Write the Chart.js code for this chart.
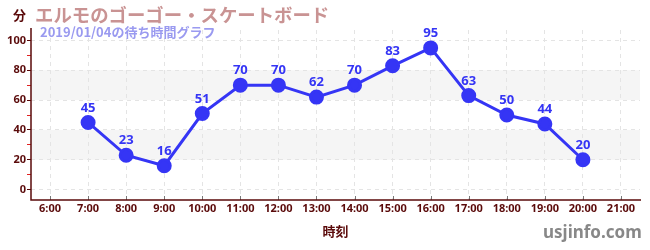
<!DOCTYPE html>
<html><head><meta charset="utf-8">
<script src="https://cdn.jsdelivr.net/npm/chart.js@4.4.1/dist/chart.umd.min.js"></script>
<style>
html,body{margin:0;padding:0;background:#fff;}
#wrap{position:relative;width:650px;height:250px;}
.t{position:absolute;white-space:nowrap;font-family:"Noto Sans CJK JP","Noto Sans",sans-serif;font-weight:bold;}
</style></head>
<body><div id="wrap"><canvas id="c" width="650" height="250"></canvas>
<div class="t" style="left:13px;top:5px;font-size:13px;color:#5a0a0a;">分</div>
<div class="t" style="left:35px;top:1px;font-size:18.4px;color:#c99393;">エルモのゴーゴー・スケートボード</div>
<div class="t" style="left:40px;top:22px;font-size:13px;color:#9a9af0;">2019/01/04の待ち時間グラフ</div>
<div class="t" style="left:543px;top:220px;font-size:17px;color:#888;font-family:'Noto Sans',sans-serif;">usjinfo.com</div>
</div>
<script>
const categories = ["6:00","7:00","8:00","9:00","10:00","11:00","12:00","13:00","14:00","15:00","16:00","17:00","18:00","19:00","20:00","21:00"];
const waitTimes = [null,45,23,16,51,70,70,62,70,83,95,63,50,44,20,null];
const bandRanges = [[20,40],[60,80]];

const axisColor = '#5a0a0a';
const lineColor = '#3535f5';

const bandPlugin = {
  id:'bands',
  beforeDraw(chart){
    const {ctx, chartArea, scales:{y}} = chart;
    ctx.save();
    ctx.fillStyle = '#f5f5f5';
    bandRanges.forEach(([a,b])=>{
      const y1 = y.getPixelForValue(b), y2 = y.getPixelForValue(a);
      ctx.fillRect(chartArea.left, y1, chartArea.right-chartArea.left, y2-y1);
    });
    ctx.restore();
  }
};
const axisPlugin = {
  id:'axes',
  afterDraw(chart){
    const {ctx, chartArea, scales:{x}} = chart;
    ctx.save();
    ctx.setLineDash([]);
    ctx.strokeStyle = '#777';
    ctx.lineWidth = 1;
    x.ticks.forEach((t,i)=>{
      const px = Math.round(x.getPixelForTick(i))+0.5;
      ctx.beginPath(); ctx.moveTo(px, chartArea.bottom-4); ctx.lineTo(px, chartArea.bottom); ctx.stroke();
    });
    ctx.strokeStyle = axisColor;
    ctx.lineWidth = 1.5;
    ctx.beginPath();
    ctx.moveTo(chartArea.left, chartArea.top-2);
    ctx.lineTo(chartArea.left, chartArea.bottom);
    ctx.lineTo(chartArea.right+1, chartArea.bottom);
    ctx.stroke();
    ctx.restore();
  }
};
const labelPlugin = {
  id:'vlabels',
  afterDatasetsDraw(chart){
    const {ctx} = chart;
    const meta = chart.getDatasetMeta(0);
    ctx.save();
    ctx.font = 'bold 13px "Noto Sans", sans-serif';
    ctx.fillStyle = lineColor;
    ctx.textAlign = 'center';
    ctx.textBaseline = 'bottom';
    meta.data.forEach((pt,i)=>{
      const v = waitTimes[i];
      if (v===null) return;
      ctx.fillText(String(v), pt.x, pt.y-8);
    });
    ctx.restore();
  }
};

new Chart(document.getElementById('c'), {
  type:'line',
  data:{labels:categories, datasets:[{
    data:waitTimes, borderColor:lineColor, backgroundColor:lineColor,
    borderWidth:3, pointRadius:6, pointHoverRadius:6, tension:0, spanGaps:false
  }]},
  options:{
    responsive:false, animation:false,
    layout:{padding:{top:30,right:10,left:0,bottom:0}},
    plugins:{legend:{display:false}, tooltip:{enabled:false}},
    scales:{
      x:{
        offset:true,
        grid:{color:'#e4e4e4', drawTicks:false, offset:false},
        border:{display:false, dash:[4,4]},
        ticks:{color:axisColor, font:{family:'"Noto Sans", sans-serif', size:11, weight:'bold'}, padding:2, maxRotation:0, autoSkip:false},
        title:{display:true, text:'時刻', color:axisColor, font:{family:'"Noto Sans CJK JP", sans-serif', size:13, weight:'bold'}, padding:{top:4,bottom:11}},
        afterFit(s){ s.height = 50; }
      },
      y:{
        min:-7, max:107,
        afterBuildTicks(s){ const t=[]; for(let v=0; v<=100; v+=10) t.push({value:v}); s.ticks=t; },
        grid:{
          color:(c)=> (c.tick && c.tick.value%20===0) ? '#e4e4e4' : 'rgba(0,0,0,0)',
          tickColor:(c)=> (c.tick && c.tick.value%20===0) ? axisColor : '#e02020',
          tickLength:4
        },
        border:{display:false, dash:[4,4]},
        ticks:{color:axisColor, font:{family:'"Noto Sans", sans-serif', size:11, weight:'bold'}, padding:1,
          callback:(v)=> v%20===0 ? String(v) : ''},
        afterFit(s){ s.width = 31; }
      }
    }
  },
  plugins:[bandPlugin,axisPlugin,labelPlugin]
});
</script></body></html>
